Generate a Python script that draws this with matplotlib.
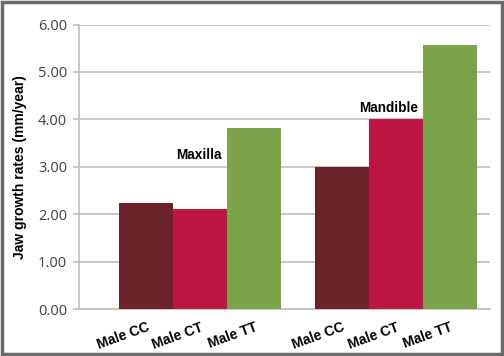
import matplotlib.pyplot as plt
import matplotlib.patches as patches

genotypes = ['Male CC', 'Male CT', 'Male TT']
groups = ['Maxilla', 'Mandible']
maxilla = [2.25, 2.12, 3.82]
mandible = [3.00, 4.00, 5.57]
yticks = [0, 1, 2, 3, 4, 5, 6]

COLORS = ['#6B2228', '#BE1545', '#7BA34A']
GRID = '#BFBFBF'

fig = plt.figure(figsize=(5.04, 3.56), dpi=100)
ax = fig.add_axes([79/504, 1 - 309.3/356, 411/504, 284.8/356])

gap = 33/54
pos_max = [0, 1, 2]
pos_man = [3 + gap, 4 + gap, 5 + gap]
ax.bar(pos_max, maxilla, width=1.0, color=COLORS, zorder=3)
ax.bar(pos_man, mandible, width=1.0, color=COLORS, zorder=3)

ax.set_xlim(-0.5 - 40/54, pos_man[-1] + 0.5 + 13/54)
ax.set_ylim(0, 6)
ax.set_yticks(yticks)
ax.set_yticklabels([f'{v:.2f}' for v in yticks], family='Open Sans',
                   fontsize=10.5, color='#404040')
ax.yaxis.grid(True, color=GRID, lw=1.2, zorder=0)
ax.tick_params(axis='y', direction='out', length=4.5, width=1.2, color=GRID, pad=4)

ax.set_xticks(pos_max + pos_man)
ax.set_xticklabels(genotypes * 2, rotation=20, ha='right', rotation_mode='anchor',
                   fontweight='bold', fontsize=10, family='Liberation Sans')
ax.tick_params(axis='x', length=0, pad=8)

for s in ['top', 'right']:
    ax.spines[s].set_visible(False)
ax.spines['left'].set_color(GRID)
ax.spines['left'].set_linewidth(1.2)
ax.spines['bottom'].set_color(GRID)
ax.spines['bottom'].set_linewidth(1.2)

ax.set_ylabel('Jaw growth rates (mm/year)', fontweight='bold', fontsize=10,
              family='Liberation Sans')
ax.yaxis.set_label_coords(-0.126, 0.5)

ax.text(pos_max[2] - 0.6, 3.25, groups[0], ha='right', va='center',
        fontweight='bold', fontsize=9.8, family='Liberation Sans')
ax.text(pos_man[2] - 0.58, 4.25, groups[1], ha='right', va='center',
        fontweight='bold', fontsize=9.8, family='Liberation Sans')

# outer frame
fig.patches.append(patches.Rectangle((0.004, 0.006), 0.992, 0.988, transform=fig.transFigure,
                                     fill=False, edgecolor='#6A6A6A', lw=2.5))

fig.savefig('out.png', dpi=100, facecolor='white')
